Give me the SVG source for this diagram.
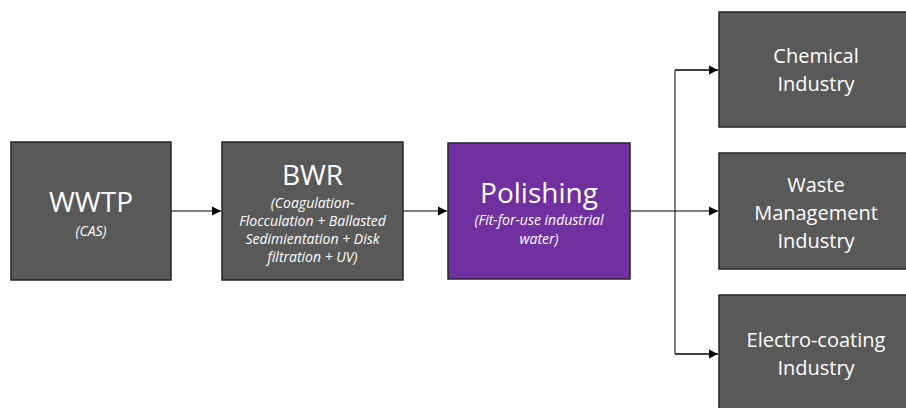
<svg xmlns="http://www.w3.org/2000/svg" width="906" height="408" viewBox="0 0 906 408">
<defs>
<marker id="ah" markerWidth="10" markerHeight="10" refX="9" refY="5" orient="auto" markerUnits="userSpaceOnUse">
<path d="M0,0.5 L9,5 L0,9.5 Z" fill="#000"/>
</marker>
<style>
.box{fill:#595959;stroke:#262626;stroke-width:1.5}
.pur{fill:#7030A0;stroke:#262626;stroke-width:1.5}
text{font-family:"Open Sans","Noto Sans",sans-serif;fill:#fff;text-anchor:middle}
.t{font-size:28px}
.s{font-size:14px;font-style:italic}
.r{font-size:20px}
.c{fill:none;stroke:#000;stroke-width:1}
</style>
</defs>
<rect width="906" height="408" fill="#fff"/>
<g id="connectors">
<line class="c" x1="171" y1="211" x2="221" y2="211" marker-end="url(#ah)"/>
<line class="c" x1="403" y1="211" x2="447" y2="211" marker-end="url(#ah)"/>
<line class="c" x1="630" y1="211" x2="718" y2="211" marker-end="url(#ah)"/>
<polyline class="c" points="718,70 675,70 675,354 718,354"/>
<line class="c" x1="675" y1="70" x2="718" y2="70" marker-end="url(#ah)"/>
<line class="c" x1="675" y1="354" x2="718" y2="354" marker-end="url(#ah)"/>
</g>
<g id="wwtp">
<rect class="box" x="11" y="142" width="160" height="138"/>
<text class="t" x="91" y="212">WWTP</text>
<text class="s" x="91" y="236">(CAS)</text>
</g>
<g id="bwr">
<rect class="box" x="222" y="142" width="181" height="138"/>
<text class="t" x="312.5" y="185">BWR</text>
<text class="s" x="312.5" y="208">(Coagulation-</text>
<text class="s" x="312.5" y="226">Flocculation + Ballasted</text>
<text class="s" x="312.5" y="244">Sedimientation + Disk</text>
<text class="s" x="312.5" y="262">filtration + UV)</text>
</g>
<g id="polishing">
<rect class="pur" x="448" y="143" width="182" height="136"/>
<text class="t" x="539" y="203">Polishing</text>
<text class="s" x="539" y="225">(Fit-for-use industrial</text>
<text class="s" x="539" y="244">water)</text>
</g>
<g id="chemical">
<rect class="box" x="719" y="12" width="188" height="115"/>
<text class="r" x="816" y="63">Chemical</text>
<text class="r" x="816" y="91">Industry</text>
</g>
<g id="waste">
<rect class="box" x="719" y="153" width="188" height="116"/>
<text class="r" x="816" y="192">Waste</text>
<text class="r" x="816" y="220">Management</text>
<text class="r" x="816" y="248">Industry</text>
</g>
<g id="electro">
<rect class="box" x="719" y="295" width="188" height="120"/>
<text class="r" x="816" y="347">Electro-coating</text>
<text class="r" x="816" y="375">Industry</text>
</g>
</svg>
